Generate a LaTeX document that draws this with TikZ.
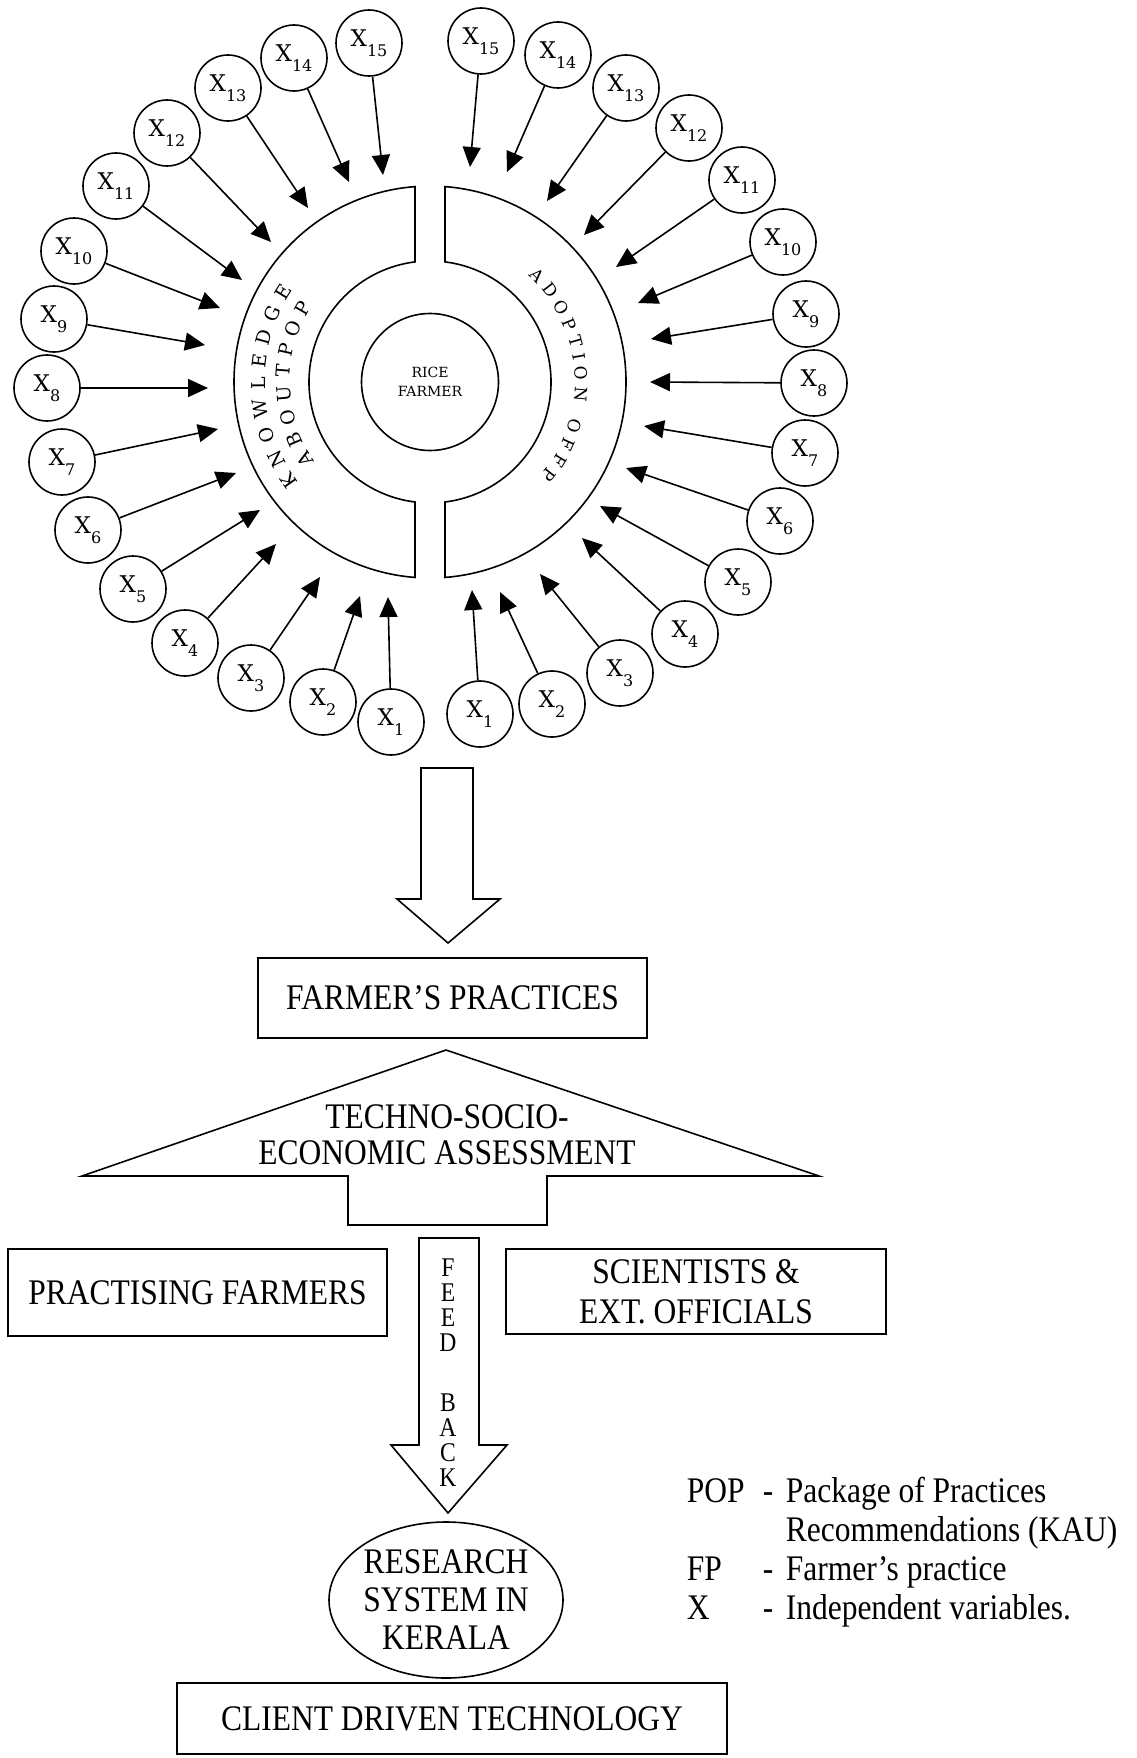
\documentclass[tikz,border=0pt]{standalone}
\usepackage{fontspec}
\setmainfont[FakeStretch=0.875]{Liberation Serif}
\newfontfamily\varfont{DejaVu Serif}
\usepackage{tikz}
\usetikzlibrary{arrows.meta, decorations.text, shapes.geometric, calc}

\tikzstyle{xnode} = [circle, draw, minimum size=66pt, inner sep=0pt, font=\varfont\fontsize{23}{24}\selectfont]
\tikzstyle{line} = [draw, -{Triangle[length=20pt, width=18pt]}]
\tikzstyle{box} = [rectangle, draw, align=center, inner sep=0pt, font=\fontsize{36}{40}\selectfont]
\tikzstyle{hollow} = [draw, line join=miter]
\tikzstyle{arctext} = [decorate, decoration={text along path, text align={fit to path}}]

\newcommand{\xv}[1]{X\raisebox{-10pt}{\fontsize{16}{16}\selectfont #1}}

\begin{document}
\begin{tikzpicture}[x=1pt, y=-1pt, line width=1.6pt]
    \useasboundingbox (0,0) rectangle (1137,1758);

    % Rice farmer and the two half rings
    \node (farmer) [circle, draw, minimum size=137pt, inner sep=0pt, align=center, font=\varfont\fontsize{14}{19}\selectfont] at (430,382) {RICE\\FARMER};
    \draw (415,186.6) arc[start angle=265.61, end angle=94.39, radius=196] -- (415,502) arc[start angle=97.12, end angle=262.88, radius=121] -- cycle;
    \draw (445,186.6) arc[start angle=-85.61, end angle=85.61, radius=196] -- (445,502) arc[start angle=82.88, end angle=-82.88, radius=121] -- cycle;
    \path [arctext, decoration={text={|\varfont\fontsize{19}{19}\selectfont|KNOWLEDGE}}] ($(farmer)+(142.6:165)$) arc[start angle=142.6, end angle=213.9, radius=165];
    \path [arctext, decoration={text={|\varfont\fontsize{19}{19}\selectfont|ABOUTPOP}}] ($(farmer)+(145.4:140)$) arc[start angle=145.4, end angle=212.8, radius=140];
    \path [arctext, decoration={text={|\varfont\fontsize{17}{17}\selectfont|ADOPTION OFFP}}] ($(farmer)+(-47.2:145)$) arc[start angle=-47.2, end angle=40.3, radius=145];

    % Independent variables, knowledge side
    \foreach \i/\x/\y/\tx/\ty in {1/391/722/388/597, 2/323/702/360/596, 3/251/678/320/577, 4/185/643/276/544, 5/133/589/260/510,
        6/88/530/236/473, 7/62/462/218/429, 8/47/388/208/388, 9/54/319/205/345, 10/74/251/220/308,
        11/116/186/242/280, 12/167/133/271/242, 13/228/88/308/208, 14/294/58/349/182, 15/369/43/383/175}
    {
        \node (k\i) [xnode] at (\x,\y) {\xv{\i}};
        \coordinate (tk\i) at (\tx,\ty);
        \draw [line] (k\i) -- (tk\i);
    }

    % Independent variables, adoption side
    \foreach \i/\x/\y/\tx/\ty in {1/480/714/472/590, 2/552/704/500/592, 3/620/673/540/574, 4/685/634/582/538, 5/738/582/600/506,
        6/780/521/626/468, 7/805/453/644/426, 8/814/383/650/382, 9/806/314/651/339, 10/783/242/638/303,
        11/742/180/616/267, 12/689/128/584/235, 13/626/88/547/201, 14/558/55/507/172, 15/481/41/470/167}
    {
        \node (a\i) [xnode] at (\x,\y) {\xv{\i}};
        \coordinate (ta\i) at (\tx,\ty);
        \draw [line] (a\i) -- (ta\i);
    }

    % Flow below
    \draw [hollow] (421,768) -- (473,768) -- (473,899) -- (500,899) -- (448,943) -- (397,899) -- (421,899) -- cycle;
    \node (practices) [box, minimum width=389pt, minimum height=80pt] at (452.5,998) {FARMER’S PRACTICES};
    \draw [hollow] (446,1050) -- (819,1176) -- (547,1176) -- (547,1225) -- (348,1225) -- (348,1176) -- (82,1176) -- cycle;
    \node (assess) [align=center, font=\fontsize{36}{36}\selectfont] at (447,1135) {TECHNO-SOCIO-\\ECONOMIC ASSESSMENT};
    \node (farmers) [box, minimum width=379pt, minimum height=87pt] at (197.5,1292.5) {PRACTISING FARMERS};
    \node (officials) [box, minimum width=380pt, minimum height=85pt] at (696,1291.5) {SCIENTISTS \&\\EXT. OFFICIALS};
    \draw [hollow] (419,1238) -- (479,1238) -- (479,1445) -- (507,1445) -- (448,1513) -- (391,1445) -- (419,1445) -- cycle;
    \node (feed) [align=center, font=\fontsize{27}{25}\selectfont] at (448,1373) {F\\E\\E\\D\\[35pt]B\\A\\C\\K};
    \node (research) [ellipse, draw, minimum width=234pt, minimum height=156pt, inner sep=0pt, align=center, font=\fontsize{36}{38}\selectfont] at (446,1600) {RESEARCH\\SYSTEM IN\\KERALA};
    \node (client) [box, minimum width=550pt, minimum height=71pt] at (452,1718.5) {CLIENT DRIVEN TECHNOLOGY};

    % Legend
    \node (legend) [anchor=west, inner sep=0pt, font=\fontsize{36}{39}\selectfont] at (686,1553) {\begin{tabular}{@{}p{76pt}@{}p{23pt}@{}l@{}}POP & - & Package of Practices\\ & & Recommendations (KAU)\\ FP & - & Farmer’s practice\\ X & - & Independent variables.\end{tabular}};
\end{tikzpicture}
\end{document}
